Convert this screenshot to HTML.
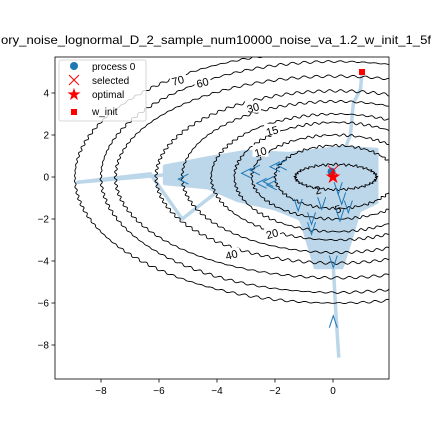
<!DOCTYPE html>
<html><head><meta charset="utf-8">
<style>
html,body{margin:0;padding:0;background:#fff;}
svg{display:block;font-family:"Liberation Sans","DejaVu Sans",sans-serif;}
</style></head>
<body>
<svg id="chart" width="432" height="432" viewBox="0 0 432 432" xmlns="http://www.w3.org/2000/svg">
<rect width="432" height="432" fill="#fff"/>
<text x="216" y="44" text-anchor="middle" font-size="12" textLength="430" lengthAdjust="spacingAndGlyphs">ory_noise_lognormal_D_2_sample_num10000_noise_va_1.2_w_init_1_5f</text>
<defs><clipPath id="pc"><rect x="55" y="57" width="334" height="322"/></clipPath></defs>
<g id="plot" clip-path="url(#pc)"></g>
<rect x="55" y="57" width="334" height="322" fill="none" stroke="#000" stroke-width="0.8"/>
<g id="axes" font-size="10"></g>
<g id="legend">
<rect x="59" y="60" width="87" height="61" rx="2" fill="#fff" fill-opacity="0.8" stroke="#ccc" stroke-width="0.8"/>
<g><circle cx="74" cy="66" r="4" fill="#1f77b4"/><text x="92" y="70" font-size="10">process 0</text></g>
<g><path d="M69,75 l10,10 M79,75 l-10,10" stroke="#f00" stroke-width="1"/><text x="92" y="84" font-size="10">selected</text></g>
<g><text x="74" y="100" font-size="17" fill="#f00" text-anchor="middle">★</text><text x="92" y="98" font-size="10">optimal</text></g>
<g><rect x="71" y="109" width="6" height="6" fill="#f00"/><text x="92" y="115" font-size="10">w_init</text></g>
</g>
</svg>
<script>
const xTicks=[-8,-6,-4,-2,0];
const yTicks=[4,2,0,-2,-4,-6,-8];
const levelA=[1.4,2.1,2.9,3.5,4.3,5.3,6.2,7.6,8.1,9.0];
const levelB=[0.6,1.5,2.0,2.6,3.0,3.6,4.1,4.8,5.5,6.0];
const labelText=["70","60","30","15","10","2","5","20","40"];
const labelX=[-5.35,-4.5,-2.76,-2.1,-2.5,-0.52,0.17,-2.1,-3.5];
const labelY=[4.6,4.5,3.3,2.2,1.2,-0.62,-1.52,-2.7,-3.7];
const trajX=[1,0.95,0.7,0.6,0.4,-1.5,-4.3,-5.8,-8.8,-6.3,-5.2,-3.9,-2.5,-1.3,-0.8,-0.6,-0.2,0.0,0.1,0.2];
const trajY=[5,4.2,3.5,2.0,1.3,0.6,0.4,0.1,-0.25,0.15,-2.0,-0.6,-1.2,-1.5,-3.0,-4.3,-2.5,-4.0,-6.5,-8.6];
const blobX=[-4.3,-3.0,-1.5,0.3,1.5,1.5,0.9,0.6,0.3,-0.6,-1.1,-2.0,-3.3,-4.3,-5.8,-5.8];
const blobY=[0.9,1.2,1.1,1.4,1.3,-1.2,-1.6,-3.0,-4.3,-4.3,-2.0,-1.5,-1.1,-0.5,-0.3,0.5];
const leftX=[-5.16,-2.98,-2.69,-2.46,-2.23,-2.0,-1.77,-2.11];
const leftY=[-0.10,0.18,0.33,-0.30,-0.22,0.49,0.57,-0.38];
const downX=[-1.2,-0.74,-0.74,-0.39,0.18,0.30,0.53,0.24,0.01];
const downY=[-1.33,-1.97,-2.44,-1.25,-0.54,-1.02,-1.41,-1.81,-4.03];
const upX=[0.01];const upY=[-6.89];
const optX=[0],optY=[0],selX=[0],selY=[0.3],procX=[-0.05],procY=[0.25],initX=[1],initY=[5];

const NS="http://www.w3.org/2000/svg";
const X=v=>333+29*v, Y=v=>177-21*v;
const plot=document.getElementById('plot'), axes=document.getElementById('axes');
function mk(tag,attrs,parent){const e=document.createElementNS(NS,tag);for(const k in attrs)e.setAttribute(k,attrs[k]);parent.appendChild(e);return e;}

const blob=mk('polygon',{points:blobX.map((x,i)=>X(x)+","+Y(blobY[i])).join(" "),fill:'#bcd6ea','stroke':'#bcd6ea','stroke-width':4,'stroke-linejoin':'round'},plot);


const tr=mk('polyline',{points:trajX.map((x,i)=>X(x)+","+Y(trajY[i])).join(" "),fill:'none',stroke:'#bcd6ea','stroke-width':3.5,'stroke-linejoin':'round'},plot);



levelA.forEach((a,i)=>{const b=levelB[i];let d="";const f1=37+11*i,f2=61+7*i;
 for(let t=0;t<=1440;t++){const th=t*Math.PI/720;
  const n=0.8*Math.sin(th*f1+i)+0.5*Math.sin(th*f2+2*i);
  const px=X(0.1+a*Math.cos(th))+n*Math.cos(th), py=Y(b*Math.sin(th))-n*Math.sin(th);d+=(t?"L":"M")+px.toFixed(1)+","+py.toFixed(1);}
 const p=mk('path',{d:d,fill:'none',stroke:'#000','stroke-width':0.9},plot);
 
 
});
labelText.forEach((s,i)=>{
 const g=mk('g',{},plot);
 
 
 if(i!==5&&i!==6)mk('rect',{x:X(labelX[i])-8,y:Y(labelY[i])-7,width:16,height:12,fill:'#fff'},g);
 const t=mk('text',{x:X(labelX[i]),y:Y(labelY[i])+4,'text-anchor':'middle','font-size':11,transform:`rotate(-15 ${X(labelX[i])} ${Y(labelY[i])})`},g);
 t.textContent=s;
});
function chev(xs,ys,kind){xs.forEach((x,i)=>{const cx=X(x),cy=Y(ys[i]);let d;
 if(kind==='<')d=`M${cx+5},${cy-5}L${cx-5},${cy}L${cx+5},${cy+5}`;
 else if(kind==='v')d=`M${cx-4},${cy-6}L${cx},${cy+6}L${cx+4},${cy-6}`;
 else d=`M${cx-4},${cy+6}L${cx},${cy-6}L${cx+4},${cy+6}`;
 const p=mk('path',{d:d,fill:'none',stroke:'#1f77b4','stroke-width':1},plot);
 
 });}
chev(leftX,leftY,'<');chev(downX,downY,'v');chev(upX,upY,'^');
const pc=mk('circle',{cx:X(procX[0]),cy:Y(procY[0]),r:4,fill:'#1f77b4'},plot);


const sx=X(selX[0]),sy=Y(selY[0]);
const sel=mk('path',{d:`M${sx-5},${sy-5}L${sx+5},${sy+5}M${sx+5},${sy-5}L${sx-5},${sy+5}`,stroke:'#f00','stroke-width':1},plot);


const st=mk('text',{x:X(optX[0]),y:Y(optY[0])+6,'text-anchor':'middle','font-size':19,fill:'#f00'},plot);
st.textContent='★';


const wi=mk('rect',{x:X(initX[0])-3,y:Y(initY[0])-3,width:6,height:6,fill:'#f00'},plot);


xTicks.forEach(v=>{mk('line',{x1:X(v),x2:X(v),y1:379,y2:382.5,stroke:'#000','stroke-width':0.8},axes);
 const t=mk('text',{x:X(v),y:394,'text-anchor':'middle'},axes);t.textContent=(v<0?'−':'')+Math.abs(v);
 
 });
yTicks.forEach(v=>{mk('line',{x1:51.5,x2:55,y1:Y(v),y2:Y(v),stroke:'#000','stroke-width':0.8},axes);
 const t=mk('text',{x:49,y:Y(v)+3.5,'text-anchor':'end'},axes);t.textContent=(v<0?'−':'')+Math.abs(v);
 
 });
</script>
</body></html>
